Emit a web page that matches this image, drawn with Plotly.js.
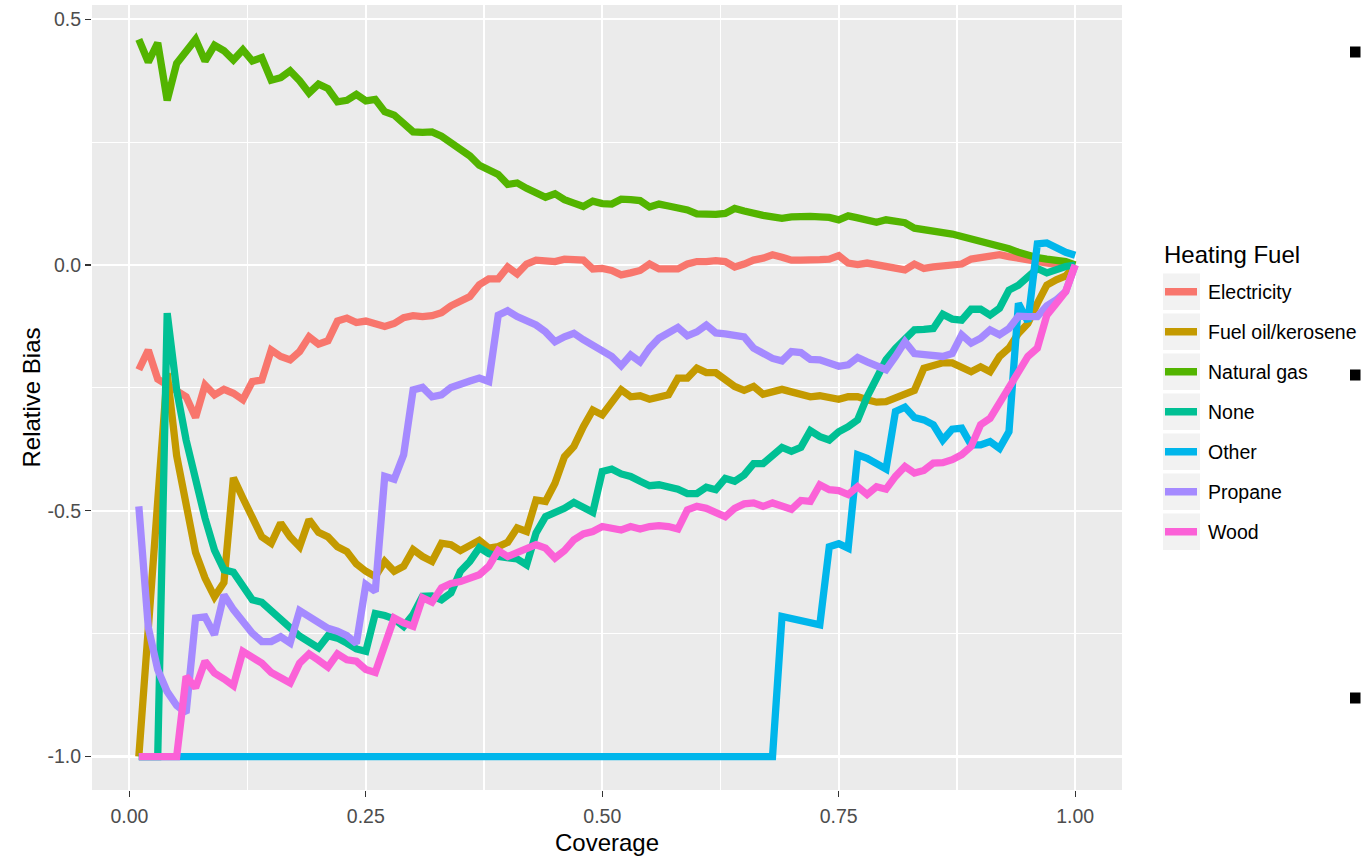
<!DOCTYPE html>
<html>
<head>
<meta charset="utf-8">
<script src="https://cdn.plot.ly/plotly-3.0.1.min.js"></script>
<style>html,body{margin:0;padding:0;background:#fff;}#chart{width:1361px;height:856px;}</style>
</head>
<body>
<div id="chart"></div>
<script>
// ---- data ----
const coverage = [0.01,0.02,0.03,0.04,0.05,0.06,0.07,0.08,0.09,0.10,
0.11,0.12,0.13,0.14,0.15,0.16,0.17,0.18,0.19,0.20,
0.21,0.22,0.23,0.24,0.25,0.26,0.27,0.28,0.29,0.30,
0.31,0.32,0.33,0.34,0.35,0.36,0.37,0.38,0.39,0.40,
0.41,0.42,0.43,0.44,0.45,0.46,0.47,0.48,0.49,0.50,
0.51,0.52,0.53,0.54,0.55,0.56,0.57,0.58,0.59,0.60,
0.61,0.62,0.63,0.64,0.65,0.66,0.67,0.68,0.69,0.70,
0.71,0.72,0.73,0.74,0.75,0.76,0.77,0.78,0.79,0.80,
0.81,0.82,0.83,0.84,0.85,0.86,0.87,0.88,0.89,0.90,
0.91,0.92,0.93,0.94,0.95,0.96,0.97,0.98,0.99,1.00];

const fuels = ["Electricity","Fuel oil/kerosene","Natural gas","None","Other","Propane","Wood"];
const colors = ["#F8766D","#C49A00","#53B400","#00C094","#00B6EB","#A58AFF","#FB61D7"];

const electricity = [-0.213,-0.173,-0.232,-0.244,-0.257,-0.268,-0.310,-0.244,-0.264,-0.253,
-0.261,-0.274,-0.237,-0.234,-0.173,-0.186,-0.193,-0.176,-0.146,-0.161,
-0.154,-0.114,-0.108,-0.117,-0.114,-0.121,-0.125,-0.119,-0.107,-0.103,
-0.105,-0.103,-0.097,-0.083,-0.073,-0.064,-0.040,-0.028,-0.028,-0.004,
-0.018,0.002,0.010,0.009,0.007,0.012,0.012,0.010,-0.008,-0.007,
-0.011,-0.020,-0.016,-0.011,0.002,-0.008,-0.008,-0.008,0.002,0.007,
0.007,0.009,0.007,-0.004,0.002,0.010,0.014,0.021,0.016,0.010,
0.010,0.012,0.011,0.012,0.019,0.004,0.001,0.004,0.000,-0.002,
-0.006,-0.010,0.002,-0.007,-0.004,-0.002,0.000,0.002,0.012,0.014,
0.016,0.021,0.017,0.014,0.010,0.006,0.002,0.001,0.002,0.000];

const fuelOil = [-1.000,-0.744,-0.480,-0.220,-0.388,-0.490,-0.585,-0.637,-0.675,-0.646,
-0.433,-0.474,-0.515,-0.553,-0.566,-0.525,-0.553,-0.573,-0.518,-0.544,
-0.553,-0.573,-0.583,-0.608,-0.623,-0.634,-0.603,-0.623,-0.613,-0.579,
-0.593,-0.603,-0.566,-0.569,-0.581,-0.569,-0.560,-0.576,-0.573,-0.564,
-0.535,-0.542,-0.478,-0.481,-0.444,-0.390,-0.369,-0.329,-0.295,-0.305,
-0.281,-0.254,-0.268,-0.266,-0.273,-0.268,-0.264,-0.230,-0.230,-0.210,
-0.219,-0.219,-0.232,-0.247,-0.255,-0.247,-0.263,-0.258,-0.253,-0.258,
-0.262,-0.268,-0.266,-0.269,-0.273,-0.268,-0.268,-0.274,-0.279,-0.278,
-0.271,-0.262,-0.255,-0.210,-0.205,-0.199,-0.199,-0.207,-0.217,-0.207,
-0.217,-0.186,-0.169,-0.139,-0.119,-0.078,-0.041,-0.030,-0.022,0.000];

const naturalGas = [0.459,0.413,0.452,0.335,0.410,0.437,0.459,0.415,0.447,0.436,
0.417,0.438,0.415,0.422,0.376,0.381,0.395,0.375,0.350,0.368,
0.359,0.332,0.335,0.347,0.334,0.337,0.312,0.305,0.290,0.271,
0.270,0.271,0.262,0.250,0.237,0.222,0.203,0.195,0.184,0.164,
0.167,0.156,0.146,0.138,0.145,0.133,0.126,0.119,0.130,0.125,
0.124,0.134,0.133,0.131,0.118,0.124,0.120,0.117,0.112,0.104,
0.102,0.103,0.105,0.115,0.110,0.104,0.101,0.098,0.095,0.098,
0.100,0.099,0.098,0.097,0.092,0.100,0.096,0.090,0.087,0.092,
0.089,0.086,0.075,0.073,0.070,0.066,0.063,0.058,0.053,0.051,
0.046,0.039,0.033,0.026,0.020,0.015,0.012,0.010,0.007,0.000];

const none = [-1.000,-1.000,-1.000,-0.098,-0.254,-0.356,-0.437,-0.515,-0.580,-0.620,
-0.625,-0.650,-0.681,-0.686,-0.705,-0.722,-0.738,-0.755,-0.768,-0.779,
-0.754,-0.759,-0.769,-0.781,-0.786,-0.709,-0.713,-0.720,-0.735,-0.711,
-0.674,-0.673,-0.681,-0.667,-0.623,-0.603,-0.575,-0.587,-0.593,-0.594,
-0.598,-0.610,-0.545,-0.512,-0.505,-0.495,-0.483,-0.491,-0.503,-0.420,
-0.415,-0.425,-0.430,-0.440,-0.449,-0.447,-0.451,-0.456,-0.465,-0.465,
-0.452,-0.457,-0.434,-0.440,-0.427,-0.404,-0.404,-0.388,-0.371,-0.379,
-0.371,-0.337,-0.349,-0.356,-0.339,-0.329,-0.315,-0.268,-0.227,-0.193,
-0.170,-0.149,-0.132,-0.131,-0.129,-0.100,-0.110,-0.112,-0.090,-0.090,
-0.102,-0.088,-0.051,-0.041,-0.024,-0.007,-0.016,-0.009,-0.003,0.000];

const other = [-1,-1,-1,-1,-1,-1,-1,-1,-1,-1,
-1,-1,-1,-1,-1,-1,-1,-1,-1,-1,
-1,-1,-1,-1,-1,-1,-1,-1,-1,-1,
-1,-1,-1,-1,-1,-1,-1,-1,-1,-1,
-1,-1,-1,-1,-1,-1,-1,-1,-1,-1,
-1,-1,-1,-1,-1,-1,-1,-1,-1,-1,
-1,-1,-1,-1,-1,-1,-1,-1,-0.715,-0.720,
-0.725,-0.728,-0.732,-0.573,-0.567,-0.576,-0.386,-0.393,-0.403,-0.415,
-0.298,-0.289,-0.310,-0.315,-0.325,-0.356,-0.334,-0.332,-0.366,-0.366,
-0.359,-0.373,-0.339,-0.078,-0.115,0.043,0.045,0.034,0.026,0.020];

const propane = [-0.491,-0.737,-0.823,-0.868,-0.896,-0.911,-0.718,-0.716,-0.752,-0.671,
-0.701,-0.727,-0.749,-0.766,-0.766,-0.756,-0.769,-0.703,-0.716,-0.730,
-0.739,-0.745,-0.754,-0.770,-0.650,-0.664,-0.430,-0.436,-0.386,-0.254,
-0.249,-0.268,-0.264,-0.249,-0.244,-0.236,-0.230,-0.237,-0.102,-0.093,
-0.105,-0.113,-0.122,-0.136,-0.156,-0.146,-0.139,-0.152,-0.164,-0.176,
-0.186,-0.205,-0.183,-0.197,-0.169,-0.149,-0.138,-0.127,-0.144,-0.136,
-0.122,-0.138,-0.140,-0.142,-0.146,-0.169,-0.180,-0.190,-0.195,-0.176,
-0.178,-0.192,-0.193,-0.199,-0.206,-0.203,-0.188,-0.197,-0.207,-0.213,
-0.186,-0.156,-0.180,-0.183,-0.186,-0.186,-0.180,-0.142,-0.159,-0.149,
-0.132,-0.142,-0.129,-0.104,-0.105,-0.105,-0.083,-0.071,-0.054,0.000];

const wood = [-1.000,-1.000,-1.000,-1.000,-1.000,-0.837,-0.860,-0.806,-0.830,-0.842,
-0.856,-0.786,-0.796,-0.810,-0.829,-0.838,-0.850,-0.810,-0.791,-0.804,
-0.818,-0.791,-0.803,-0.806,-0.823,-0.829,-0.769,-0.718,-0.728,-0.735,
-0.677,-0.686,-0.657,-0.648,-0.644,-0.637,-0.630,-0.613,-0.581,-0.593,
-0.585,-0.576,-0.569,-0.576,-0.596,-0.581,-0.559,-0.547,-0.542,-0.532,
-0.535,-0.539,-0.532,-0.537,-0.532,-0.530,-0.532,-0.537,-0.498,-0.491,
-0.495,-0.503,-0.512,-0.495,-0.486,-0.484,-0.491,-0.484,-0.491,-0.497,
-0.479,-0.481,-0.447,-0.457,-0.459,-0.467,-0.451,-0.467,-0.451,-0.456,
-0.430,-0.410,-0.423,-0.418,-0.403,-0.402,-0.396,-0.386,-0.369,-0.325,
-0.312,-0.281,-0.247,-0.220,-0.186,-0.169,-0.102,-0.078,-0.054,0.000];

const xTickVals = [0, 0.25, 0.5, 0.75, 1];
const xTickText = ["0.00","0.25","0.50","0.75","1.00"];
const yTickVals = [-1, -0.5, 0, 0.5];
const yTickText = ["-1.0","-0.5","0.0","0.5"];

// ---- figure ----
const seriesValues = [electricity, fuelOil, naturalGas, none, other, propane, wood];
const FONT = "Liberation Sans, Arial, sans-serif";
const W = 1361, H = 856;
const M = {l: 92, r: 239, t: 5, b: 66};
const PW = W - M.l - M.r, PH = H - M.t - M.b;
const px = x => (x - M.l) / PW;          // pixel -> paper x
const py = y => (M.t + PH - y) / PH;     // pixel -> paper y

const traces = fuels.map((name, i) => ({
  type: "scatter", mode: "lines", name: name,
  x: coverage, y: seriesValues[i],
  line: {color: colors[i], width: 7.3},
  showlegend: false, hoverinfo: "skip"
}));

const shapes = [];
const annotations = [];
// legend (ggplot style)
annotations.push({xref: "paper", yref: "paper", x: px(1162), y: py(254), xanchor: "left", yanchor: "middle",
  text: "Heating Fuel", showarrow: false, font: {family: FONT, size: 24, color: "#000"}});
fuels.forEach((name, i) => {
  const top = 273.5 + 40 * i, bot = top + 36.5, cy = (top + bot) / 2;
  shapes.push({type: "rect", xref: "paper", yref: "paper", x0: px(1163), x1: px(1200), y0: py(bot), y1: py(top),
    fillcolor: "#F2F2F2", line: {width: 0}, layer: "above"});
  shapes.push({type: "line", xref: "paper", yref: "paper", x0: px(1165), x1: px(1197), y0: py(cy), y1: py(cy),
    line: {color: colors[i], width: 7.5}, layer: "above"});
  annotations.push({xref: "paper", yref: "paper", x: px(1206), y: py(cy), xanchor: "left", yanchor: "middle",
    text: name, showarrow: false, font: {family: FONT, size: 19.5, color: "#000"}});
});
// small black squares at the right edge
[52, 375, 698].forEach(cy => {
  shapes.push({type: "rect", xref: "paper", yref: "paper", x0: px(1350), x1: px(1360.5), y0: py(cy + 5.5), y1: py(cy - 5.5),
    fillcolor: "#000", line: {width: 0}, layer: "above"});
});

const axisCommon = {
  showgrid: true, gridcolor: "#FFFFFF", gridwidth: 2.2, zeroline: false, showline: false,
  ticks: "outside", ticklen: 6, tickwidth: 1.3, tickcolor: "#333333",
  tickfont: {family: FONT, size: 19.5, color: "#4D4D4D"}, tickmode: "array"
};

const layout = {
  width: W, height: H, margin: M,
  paper_bgcolor: "#FFFFFF", plot_bgcolor: "#EBEBEB",
  showlegend: false, hovermode: false,
  xaxis: Object.assign({}, axisCommon, {
    range: [-0.0395, 1.0495], tickvals: xTickVals, ticktext: xTickText, ticklabelstandoff: 3,
    minor: {tickmode: "array", tickvals: [0.125, 0.375, 0.625, 0.875], showgrid: true, gridcolor: "#FFFFFF", gridwidth: 1.1, ticks: ""},
    title: {text: "Coverage", font: {family: FONT, size: 24, color: "#000"}, standoff: 8}
  }),
  yaxis: Object.assign({}, axisCommon, {
    range: [-1.068, 0.529], tickvals: yTickVals, ticktext: yTickText,
    minor: {tickmode: "array", tickvals: [-0.75, -0.25, 0.25], showgrid: true, gridcolor: "#FFFFFF", gridwidth: 1.1, ticks: ""},
    title: {text: "Relative Bias", font: {family: FONT, size: 24, color: "#000"}, standoff: 0}
  }),
  shapes: shapes, annotations: annotations
};

Plotly.newPlot("chart", traces, layout, {staticPlot: true, displayModeBar: false});
</script>
</body>
</html>
